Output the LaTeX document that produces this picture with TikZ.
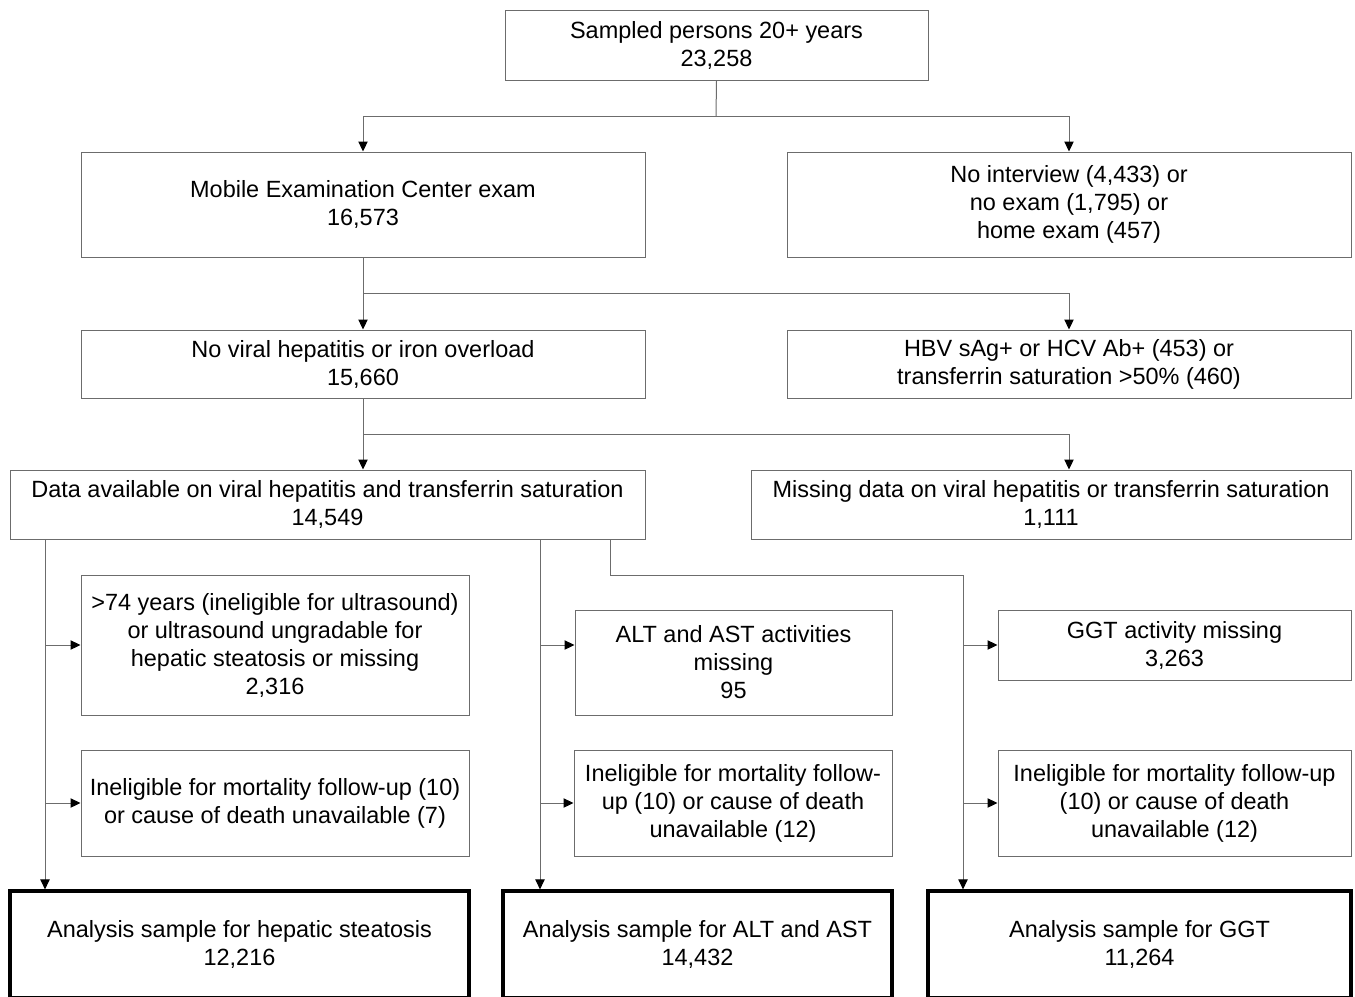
\documentclass[tikz,border=0pt]{standalone}
\usepackage{fontspec}
\setmainfont{Liberation Sans}
\usetikzlibrary{arrows.meta}
\newcommand\mybx[7][box]{\node[#1,minimum width={(#5-#3)*0.75pt},minimum height={(#6-#4)*0.75pt}] (#2) at ({(#3+#5)/2},{(#4+#6)/2}) {#7};}
\begin{document}
\begin{tikzpicture}[x=0.75pt,y=-0.75pt,
  box/.style={draw=gray!85!black,line width=0.75pt,inner sep=0pt,align=center,font=\fontsize{17.6}{21}\selectfont},
  finalbox/.style={box,draw=black,line width=2.4pt},
  conn/.style={draw=gray!85!black,line width=0.75pt},
  arr/.style={conn,-{Triangle[length=7.5pt,width=7pt,color=black,fill=black]}}]
\clip (0,0) rectangle (1355,996);
\useasboundingbox (0,0) rectangle (1355,996);
\fill[white] (0,0) rectangle (1355,996);

\mybx{top}{505}{10}{928}{80}{Sampled persons 20+ years\\23,258}
\mybx{mec}{81}{152}{645}{257}{Mobile Examination Center exam\\16,573}
\mybx{noint}{787}{152}{1351}{257}{No interview (4,433) or\\no exam (1,795) or\\home exam (457)}
\mybx{novir}{81}{330}{645}{398}{No viral hepatitis or iron overload\\15,660}
\mybx{hbv}{787}{330}{1351}{398}{HBV sAg+ or HCV Ab+ (453) or\\transferrin saturation >50\% (460)}
\mybx{data}{10}{470}{645}{539}{Data available on viral hepatitis and transferrin saturation\\14,549}
\mybx{miss}{751}{470}{1351}{539}{Missing data on viral hepatitis or transferrin saturation\\1,111}
\mybx{ex1}{81}{575}{469}{715}{>74 years (ineligible for ultrasound)\\or ultrasound ungradable for\\hepatic steatosis or missing\\2,316}
\mybx{ex2}{575}{610}{892}{715}{ALT and AST activities\\missing\\95}
\mybx{ex3}{998}{610}{1351}{680}{GGT activity missing\\3,263}
\mybx{in1}{81}{750}{469}{856}{Ineligible for mortality follow-up (10)\\or cause of death unavailable (7)}
\mybx{in2}{574}{750}{892}{856}{Ineligible for mortality follow-\\up (10) or cause of death\\unavailable (12)}
\mybx{in3}{998}{750}{1351}{856}{Ineligible for mortality follow-up\\(10) or cause of death\\unavailable (12)}
\mybx[finalbox]{an1}{10}{891}{469}{998}{Analysis sample for hepatic steatosis\\12,216}
\mybx[finalbox]{an2}{503}{891}{892}{998}{Analysis sample for ALT and AST\\14,432}
\mybx[finalbox]{an3}{928}{891}{1351}{998}{Analysis sample for GGT\\11,264}

% top splits
\coordinate (s1) at (716,116);
\draw[conn] (top.south) -- (s1);
\draw[arr] (s1) -| (mec.north);
\draw[arr] (s1) -| (noint.north);

\coordinate (s2) at (363,293);
\draw[arr] (mec.south) -- (novir.north);
\draw[arr] (s2) -| (hbv.north);

\coordinate (s3) at (363,434);
\draw[arr] (novir.south) -- (novir.south |- data.north);
\draw[arr] (s3) -| (hbv.center |- miss.north);

% lower branches
\coordinate (b1) at (45,539);
\coordinate (b2) at (540,539);
\coordinate (b3) at (610,539);
\coordinate (b3a) at (610,575);
\coordinate (b3b) at (963,575);
\draw[arr] (b1) -- (b1 |- an1.north);
\draw[arr] (b1 |- ex1.west) -- (ex1.west);
\draw[arr] (b1 |- in1.west) -- (in1.west);
\draw[arr] (b2) -- (b2 |- an2.north);
\draw[arr] (b2 |- ex1.west) -- (ex1.west -| ex2.west);
\draw[arr] (b2 |- in2.west) -- (in2.west);
\draw[conn] (b3) -- (b3a) -- (b3b);
\draw[arr] (b3b) -- (b3b |- an3.north);
\draw[arr] (b3b |- ex3.west) -- (ex3.west);
\draw[arr] (b3b |- in3.west) -- (in3.west);
\end{tikzpicture}
\end{document}
